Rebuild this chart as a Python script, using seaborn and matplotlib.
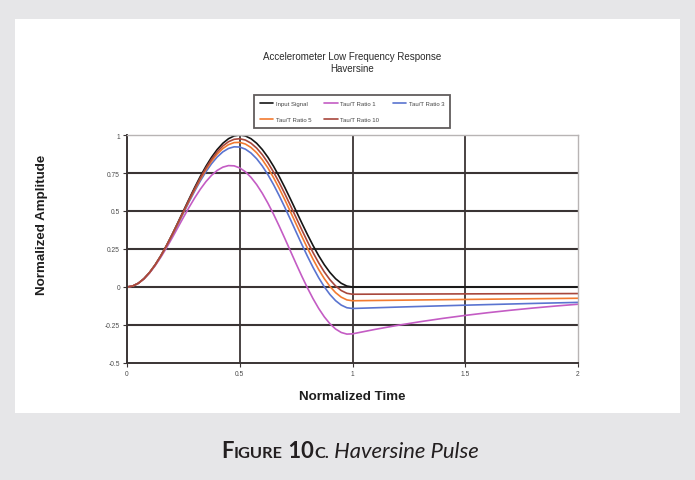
import matplotlib
matplotlib.use("Agg")
import matplotlib.pyplot as plt
from matplotlib import font_manager
from matplotlib.patches import Rectangle
import seaborn as sns
import pandas as pd

# Normalized time samples
t_pulse = [0.0, 0.025, 0.05, 0.075, 0.10, 0.125, 0.15, 0.175, 0.20, 0.225, 0.25,
           0.275, 0.30, 0.325, 0.35, 0.375, 0.40, 0.425, 0.45, 0.475, 0.50,
           0.525, 0.55, 0.575, 0.60, 0.625, 0.65, 0.675, 0.70, 0.725, 0.75,
           0.775, 0.80, 0.825, 0.85, 0.875, 0.90, 0.925, 0.95, 0.975, 1.00]
t_tail = [1.1, 1.2, 1.3, 1.4, 1.5, 1.6, 1.7, 1.8, 1.9, 2.0]

input_signal = [0.0, 0.0061, 0.0245, 0.0545, 0.0955, 0.1464, 0.2061, 0.2730, 0.3455, 0.4218, 0.5000,
                0.5782, 0.6545, 0.7270, 0.7939, 0.8536, 0.9045, 0.9455, 0.9755, 0.9938, 1.0000,
                0.9938, 0.9755, 0.9455, 0.9045, 0.8536, 0.7939, 0.7270, 0.6545, 0.5782, 0.5000,
                0.4218, 0.3455, 0.2730, 0.2061, 0.1464, 0.0955, 0.0545, 0.0245, 0.0061, 0.0,
                0.0, 0.0, 0.0, 0.0, 0.0, 0.0, 0.0, 0.0, 0.0, 0.0]
ratio_1 = [0.0, 0.0061, 0.0241, 0.0532, 0.0923, 0.1404, 0.1959, 0.2571, 0.3224, 0.3898, 0.4574,
           0.5233, 0.5858, 0.6429, 0.6931, 0.7349, 0.7670, 0.7885, 0.7987, 0.7971, 0.7834,
           0.7580, 0.7211, 0.6737, 0.6165, 0.5510, 0.4784, 0.4005, 0.3190, 0.2358, 0.1527,
           0.0717, -0.0054, -0.0768, -0.1410, -0.1964, -0.2419, -0.2764, -0.2992, -0.3099, -0.3082,
           -0.2789, -0.2523, -0.2283, -0.2066, -0.1869, -0.1691, -0.1531, -0.1385, -0.1253, -0.1134]
ratio_3 = [0.0, 0.0061, 0.0244, 0.0540, 0.0944, 0.1444, 0.2026, 0.2675, 0.3375, 0.4107, 0.4852,
           0.5590, 0.6304, 0.6973, 0.7582, 0.8113, 0.8553, 0.8890, 0.9115, 0.9222, 0.9207,
           0.9069, 0.8811, 0.8439, 0.7960, 0.7387, 0.6731, 0.6009, 0.5237, 0.4434, 0.3619,
           0.2810, 0.2027, 0.1288, 0.0611, 0.0012, -0.0495, -0.0900, -0.1191, -0.1364, -0.1413,
           -0.1367, -0.1322, -0.1279, -0.1237, -0.1196, -0.1157, -0.1119, -0.1082, -0.1047, -0.1012]
ratio_5 = [0.0, 0.0061, 0.0244, 0.0542, 0.0949, 0.1452, 0.2040, 0.2697, 0.3407, 0.4151, 0.4910,
           0.5666, 0.6399, 0.7090, 0.7722, 0.8278, 0.8745, 0.9111, 0.9364, 0.9501, 0.9515,
           0.9406, 0.9176, 0.8831, 0.8378, 0.7828, 0.7193, 0.6490, 0.5735, 0.4945, 0.4140,
           0.3340, 0.2562, 0.1826, 0.1149, 0.0549, 0.0038, -0.0371, -0.0669, -0.0848, -0.0905,
           -0.0887, -0.0870, -0.0852, -0.0835, -0.0819, -0.0803, -0.0787, -0.0771, -0.0756, -0.0741]
ratio_10 = [0.0, 0.0061, 0.0245, 0.0544, 0.0952, 0.1458, 0.2050, 0.2713, 0.3431, 0.4184, 0.4955,
            0.5724, 0.6471, 0.7179, 0.7829, 0.8406, 0.8893, 0.9281, 0.9557, 0.9717, 0.9754,
            0.9668, 0.9460, 0.9137, 0.8705, 0.8174, 0.7558, 0.6871, 0.6130, 0.5352, 0.4558,
            0.3766, 0.2994, 0.2263, 0.1589, 0.0989, 0.0478, 0.0067, -0.0233, -0.0415, -0.0476,
            -0.0471, -0.0467, -0.0462, -0.0457, -0.0453, -0.0448, -0.0444, -0.0439, -0.0435, -0.0431]

series_names = ["Input Signal", "Tau/T Ratio 1", "Tau/T Ratio 3", "Tau/T Ratio 5", "Tau/T Ratio 10"]
series_colors = ["#151515", "#c45cc4", "#5a74d0", "#f27a30", "#a8473c"]
x_ticks = [0, 0.5, 1, 1.5, 2]
x_tick_labels = ["0", "0.5", "1", "1.5", "2"]
y_ticks = [-0.5, -0.25, 0, 0.25, 0.5, 0.75, 1]
y_tick_labels = ["-0.5", "-0.25", "0", "0.25", "0.5", "0.75", "1"]

time = t_pulse + t_tail
df = pd.concat([
    pd.DataFrame({"Normalized Time": time, "Normalized Amplitude": vals, "series": name})
    for name, vals in zip(series_names, [input_signal, ratio_1, ratio_3, ratio_5, ratio_10])
], ignore_index=True)

sns.set_theme(style="white")
names = {f.name for f in font_manager.fontManager.ttflist}
narrow = "Liberation Sans Narrow" if "Liberation Sans Narrow" in names else None
plt.rcParams["font.family"] = ["Liberation Sans", "DejaVu Sans"]

BG = "#e6e6e8"
fig = plt.figure(figsize=(6.95, 4.81), dpi=100)
fig.patch.set_facecolor(BG)
W, H = 695, 481

# white card
fig.add_artist(Rectangle((15 / W, 1 - 414 / H), (680 - 15) / W, (414 - 20) / H,
                         transform=fig.transFigure, facecolor="white", edgecolor="none", zorder=0))

ax = fig.add_axes([127 / W, 1 - 364 / H, 451 / W, 228 / H])
ax.set_facecolor("white")

sns.lineplot(data=df, x="Normalized Time", y="Normalized Amplitude", hue="series",
             hue_order=series_names, palette=series_colors, linewidth=1.2,
             ax=ax, legend=False, sort=False)

ax.set_xlim(0, 2)
ax.set_ylim(-0.5, 1)
ax.set_xticks(x_ticks)
ax.set_xticklabels(x_tick_labels)
ax.set_yticks(y_ticks)
ax.set_yticklabels(y_tick_labels)

# dark grid
for yv in y_ticks[1:-1]:
    ax.axhline(yv, color="#3a3434", lw=1.5, zorder=0.5)
for xv in x_ticks[1:-1]:
    ax.axvline(xv, color="#3a3434", lw=1.3, zorder=0.5)

for side in ["top", "right"]:
    ax.spines[side].set_color("#b8b4b4")
    ax.spines[side].set_linewidth(1.0)
for side in ["left", "bottom"]:
    ax.spines[side].set_color("#3a3434")
    ax.spines[side].set_linewidth(1.4)

ax.tick_params(axis="both", which="major", labelsize=4.8, labelcolor="#4a4a4a",
               length=3, width=0.8, color="#3a3434", pad=2, direction="out",
               left=True, bottom=True)

label_kw = dict(fontsize=9.6, fontweight="bold", color="#1e1e1e")
if narrow:
    label_kw = dict(fontsize=11.5, fontweight="bold", color="#1e1e1e", family=narrow)
ax.set_xlabel("Normalized Time", labelpad=9.5, **label_kw)
ax.set_ylabel("")
fig.text(42 / W, 1 - 225 / H, "Normalized Amplitude", rotation=90,
         ha="center", va="center", **label_kw)

# chart title
fig.text(352 / W, 1 - 57 / H, "Accelerometer Low Frequency Response", ha="center", va="center",
         fontsize=7, color="#2a2a2a")
fig.text(352 / W, 1 - 69 / H, "Haversine", ha="center", va="center",
         fontsize=7, color="#2a2a2a")

# legend laid out row by row in three columns
handles = ax.get_lines()[:5]
order = [0, 3, 1, 4, 2]
leg = fig.legend([handles[i] for i in order], [series_names[i] for i in order],
                 loc="center", bbox_to_anchor=(352 / W, 1 - 112.5 / H), ncol=3,
                 fontsize=4.3, frameon=True, fancybox=False, handlelength=2.3,
                 handletextpad=0.4, columnspacing=2.2, borderpad=1.0, labelspacing=1.8,
                 borderaxespad=0)
leg.get_frame().set_edgecolor("#3a3434")
leg.get_frame().set_linewidth(1.3)
for txt in leg.get_texts():
    txt.set_color("#444444")

# caption below the card, small caps label followed by italic text
fig.canvas.draw()
renderer = fig.canvas.get_renderer()
cap_color = "#231f20"
cap_y = 1 - 458 / H
pieces = [("F", 15.8, "bold", "normal"), ("IGURE", 11.8, "bold", "normal"),
          (" 10", 15.8, "bold", "normal"), ("C.", 11.8, "bold", "normal"),
          (" Haversine Pulse", 15.8, "normal", "italic")]
artists = []
for s, size, weight, style in pieces:
    a = fig.text(0, cap_y, s, fontsize=size, fontweight=weight, fontstyle=style,
                 color=cap_color, ha="left", va="baseline", family=["Lato", "DejaVu Sans"])
    artists.append(a)
widths = [a.get_window_extent(renderer).width for a in artists]
total = sum(widths)
x0 = (350 - total / 2)
for a, w in zip(artists, widths):
    a.set_x(x0 / W)
    x0 += w

fig.savefig("out.png", dpi=100, facecolor=BG)
